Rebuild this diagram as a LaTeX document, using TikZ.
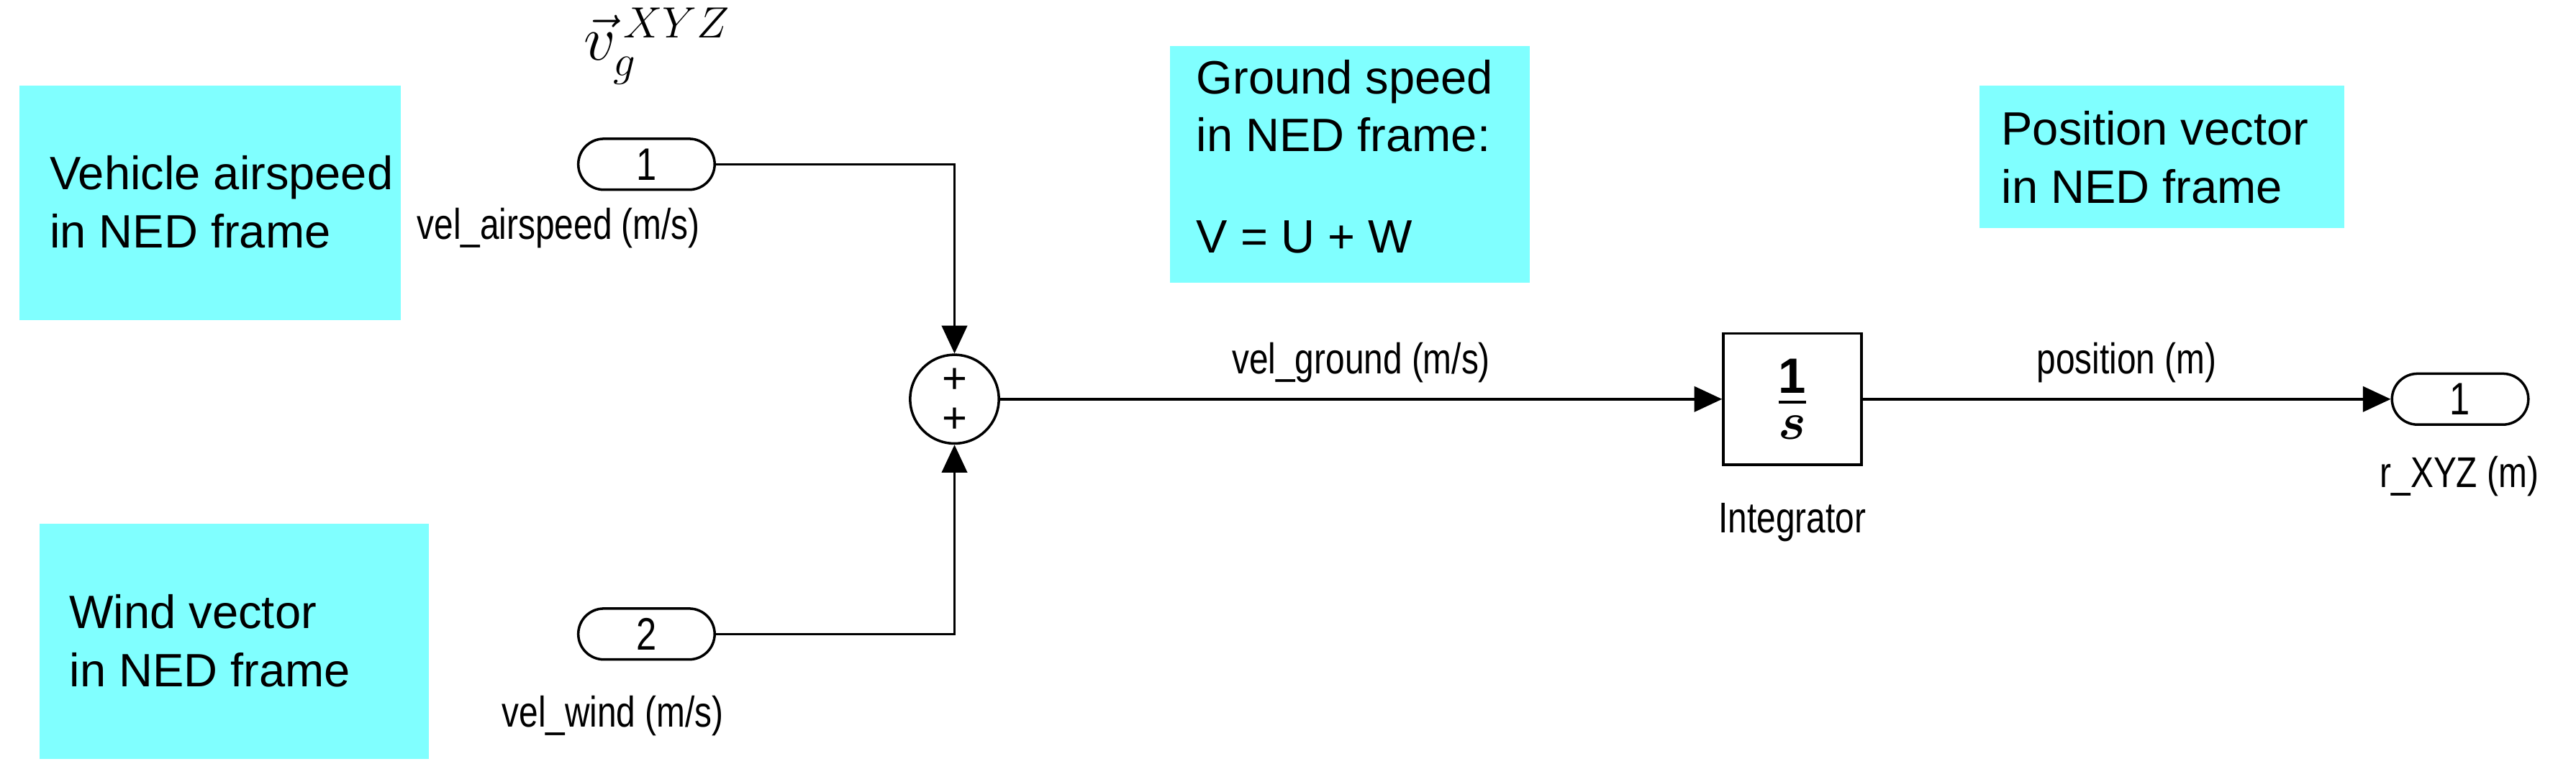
\documentclass[tikz,border=0pt]{standalone}
\usepackage{amsmath,bm}
\usepackage{fontspec}
\setmainfont{Liberation Sans}
\newfontfamily\narrowf{Liberation Sans}[FakeStretch=0.8]
\usetikzlibrary{arrows.meta}
\definecolor{anno}{RGB}{128,255,255}
\begin{document}
\begin{tikzpicture}[x=0.02283cm,y=-0.02283cm,
  note/.style={fill=anno,draw=none,align=left,font=\fontsize{18.5}{23}\selectfont,inner sep=0pt},
  lbl/.style={font=\narrowf\fontsize{17}{19}\selectfont,inner sep=1pt},
  port/.style={draw,rounded corners=15.5*0.02283cm,minimum width=83*0.02283cm,minimum height=31*0.02283cm,inner sep=0pt,font=\narrowf\fontsize{18}{18}\selectfont,line width=1pt},
  sig/.style={line width=1pt,-{Triangle[length=11pt,width=10pt]}}]
\useasboundingbox (0,0) rectangle (1568,476);
\fill[anno] (12,52) rectangle (244,195); \node[note,anchor=west] (n1) at (30,123) {Vehicle airspeed\\in NED frame};
\fill[anno] (24,319) rectangle (261,462); \node[note,anchor=west] (n2) at (42,390) {Wind vector\\in NED frame};
\fill[anno] (712,28) rectangle (931,172); \node[note,anchor=north west] (n3) at (728,36) {Ground speed\\in NED frame:\\[17pt]V = U + W};
\fill[anno] (1205,52) rectangle (1427,139); \node[note,anchor=west] (n4) at (1218,96) {Position vector\\in NED frame};
\node[port] (in1) at (393.5,100) {1};
\node[lbl] (l1) at (340,139) {vel\_airspeed (m/s)};
\node[font=\fontsize{26}{30}\selectfont,inner sep=0pt] (vg) at (400,28) {$\vec{v}_g^{\,XYZ}$};
\node[port] (in2) at (393.5,386) {2};
\node[lbl] (l2) at (373,436) {vel\_wind (m/s)};
\node[draw,circle,minimum size=54*0.02283cm,inner sep=0pt,line width=1pt] (sum) at (581,243) {};
\node[font=\fontsize{17}{17}\selectfont,inner sep=0pt] (p1) at (581,232) {+};
\node[font=\fontsize{17}{17}\selectfont,inner sep=0pt] (p2) at (581,256) {+};
\node[draw,minimum width=84*0.02283cm,minimum height=80*0.02283cm,line width=1pt,font=\fontsize{28}{32}\selectfont] (int) at (1091,243) {$\frac{\mathbf{1}}{\bm{s}}$};
\node[lbl] (il) at (1091,318) {Integrator};
\node[port] (out) at (1497.5,243) {1};
\node[lbl] (ol) at (1497,290) {r\_XYZ (m)};
\draw[sig] (in1.east) -| (sum.north);
\draw[sig] (in2.east) -| (sum.south);
\draw[sig] (sum.east) -- node[lbl,above=5pt] {vel\_ground (m/s)} (int.west);
\draw[sig] (int.east) -- node[lbl,above=5pt] {position (m)} (out.west);
\end{tikzpicture}
\end{document}
